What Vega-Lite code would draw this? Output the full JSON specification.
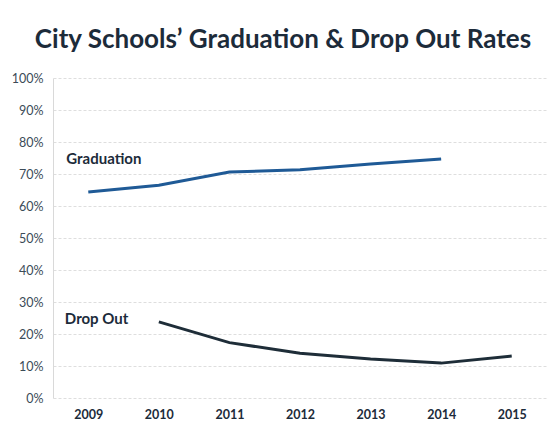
{
  "$schema": "https://vega.github.io/schema/vega-lite/v6.json",
  "autosize": "none",
  "width": 494,
  "height": 320,
  "padding": {"left": 53, "top": 78, "right": 13, "bottom": 30},
  "background": "white",
  "title": {
    "text": "City Schools’ Graduation & Drop Out Rates",
    "font": "Lato",
    "fontSize": 26,
    "fontWeight": "bold",
    "color": "#1c2b3a",
    "anchor": "middle",
    "dx": -17,
    "offset": 19
  },
  "data": {
    "values": [
      {"year": "2009", "series": "Graduation", "rate": 64.4},
      {"year": "2010", "series": "Graduation", "rate": 66.5},
      {"year": "2011", "series": "Graduation", "rate": 70.6},
      {"year": "2012", "series": "Graduation", "rate": 71.3},
      {"year": "2013", "series": "Graduation", "rate": 73.1},
      {"year": "2014", "series": "Graduation", "rate": 74.7},
      {"year": "2010", "series": "Drop Out", "rate": 23.8},
      {"year": "2011", "series": "Drop Out", "rate": 17.3},
      {"year": "2012", "series": "Drop Out", "rate": 14.0},
      {"year": "2013", "series": "Drop Out", "rate": 12.2},
      {"year": "2014", "series": "Drop Out", "rate": 10.9},
      {"year": "2015", "series": "Drop Out", "rate": 13.1}
    ]
  },
  "encoding": {
    "x": {
      "field": "year",
      "type": "ordinal",
      "sort": ["2009", "2010", "2011", "2012", "2013", "2014", "2015"],
      "scale": {"domain": ["2009", "2010", "2011", "2012", "2013", "2014", "2015"], "type": "point", "padding": 0.5},
      "axis": {
        "title": null,
        "labelAngle": 0,
        "labelFont": "Lato",
        "labelFontSize": 12.5,
        "labelFontWeight": "bold",
        "labelColor": "#1c2b3a",
        "labelPadding": 10,
        "domain": false,
        "ticks": false,
        "grid": false
      }
    },
    "y": {
      "field": "rate",
      "type": "quantitative",
      "scale": {"domain": [0, 100]},
      "axis": {
        "title": null,
        "values": [0, 10, 20, 30, 40, 50, 60, 70, 80, 90, 100],
        "labelExpr": "datum.value + '%'",
        "labelFont": "Lato",
        "labelFontSize": 12.5,
        "labelColor": "#3b4b57",
        "labelPadding": 10,
        "domain": true,
        "domainColor": "#d9d9d9",
        "ticks": false,
        "grid": true,
        "gridColor": "#dedede",
        "gridDash": [3, 2]
      }
    }
  },
  "layer": [
    {
      "mark": {"type": "line", "strokeWidth": 3, "interpolate": "linear"},
      "encoding": {
        "color": {
          "field": "series",
          "type": "nominal",
          "scale": {"domain": ["Graduation", "Drop Out"], "range": ["#1f5a96", "#1e2d38"]},
          "legend": null
        }
      }
    },
    {
      "transform": [{"filter": "datum.series == 'Graduation' && datum.year == '2009'"}],
      "mark": {"type": "text", "text": "Graduation", "align": "left", "baseline": "middle", "dx": -22, "dy": -33, "font": "Lato", "fontSize": 15, "fontWeight": "bold"},
      "encoding": {"color": {"value": "#1c2b3a"}}
    },
    {
      "transform": [{"filter": "datum.series == 'Drop Out' && datum.year == '2010'"}],
      "mark": {"type": "text", "text": "Drop Out", "align": "left", "baseline": "middle", "dx": -94, "dy": -3, "font": "Lato", "fontSize": 15, "fontWeight": "bold"},
      "encoding": {"color": {"value": "#1c2b3a"}}
    }
  ],
  "config": {"view": {"stroke": null}}
}
